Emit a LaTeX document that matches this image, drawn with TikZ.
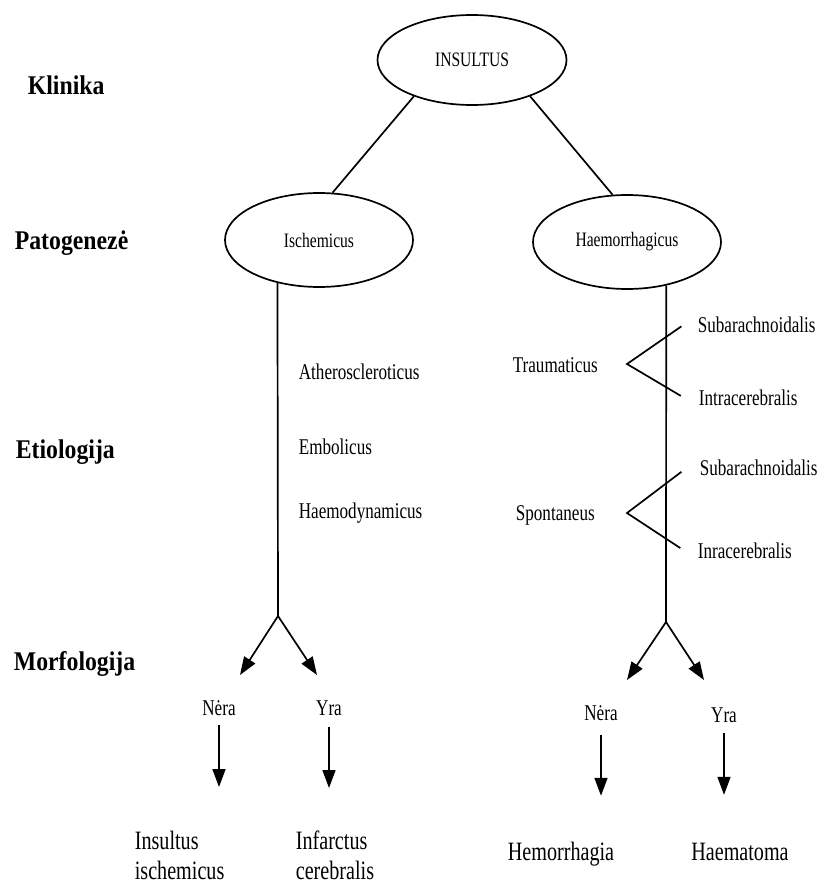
\documentclass[tikz,border=0pt]{standalone}
\usepackage{fontspec}
\setmainfont{Liberation Serif}[FakeStretch=0.76]
\newfontfamily\lblfont{Liberation Serif}[FakeStretch=0.88]
\usepackage{tikz}
\usetikzlibrary{arrows.meta, shapes.geometric, positioning}

\begin{document}
\begin{tikzpicture}[x=1pt, y=-1pt, line width=1.7pt]
  \tikzstyle{lvl}=[anchor=base west, inner sep=0pt,
    font=\lblfont\bfseries\fontsize{27}{30}\selectfont]
  \tikzstyle{ell}=[draw, ellipse, minimum width=188pt, minimum height=94pt,
    font=\fontsize{20.5}{24}\selectfont]
  \tikzstyle{txt}=[anchor=base west, inner sep=0pt,
    font=\fontsize{22.5}{26}\selectfont]
  \tikzstyle{ans}=[anchor=base, inner sep=0pt,
    font=\fontsize{22.5}{26}\selectfont]
  \tikzstyle{res}=[inner sep=0pt, align=left,
    font=\fontsize{26.5}{30}\selectfont]
  \tikzstyle{arr}=[-{Triangle[length=18pt, width=13pt]}]

  \useasboundingbox (0,0) rectangle (823,888);

  % levels on the left
  \node[lvl] (klin) at (27,95)  {Klinika};
  \node[lvl] (pato) at (14,249) {Patogenezė};
  \node[lvl] (etio) at (15,458) {Etiologija};
  \node[lvl] (morf) at (13,670) {Morfologija};

  % ellipses
  \node[ell, minimum width=189pt, minimum height=90pt] (ins) at (472,60) {INSULTUS};
  \node[ell] (isch) at (319,240) {Ischemicus};
  \node[ell] (haem) at (627,242) {Haemorrhagicus};

  \draw (ins.212) -- (isch.74);
  \draw (ins.328) -- (haem.107);

  % ischemic branch
  \node[txt] (ath) at (298,379) {Atheroscleroticus};
  \node[txt] (emb) at (298,454) {Embolicus};
  \node[txt] (hdy) at (298,518) {Haemodynamicus};

  % haemorrhagic branch
  \node[txt] (trau) at (512,372) {Traumaticus};
  \node[txt] (sa1)  at (697,332) {Subarachnoidalis};
  \node[txt] (ic1)  at (698,405) {Intracerebralis};
  \node[txt] (spon) at (515,520) {Spontaneus};
  \node[txt] (sa2)  at (699,475) {Subarachnoidalis};
  \node[txt] (ic2)  at (697,558) {Inracerebralis};

  \coordinate (tv1) at (627,364);
  \coordinate (tv2) at (627,513);
  \draw[shorten <=19pt, shorten >=20pt] (sa1.north west) -- (tv1) -- (ic1.south west);
  \draw[shorten <=22pt, shorten >=20pt] (sa2.north west) -- (tv2) -- (ic2.south west);

  % trunks and forks
  \coordinate (lj) at (278,616);
  \coordinate (rj) at (666,622);
  \draw (isch.226) -- (lj);
  \draw (haem.312) -- (rj);

  \coordinate (la) at (240,675);
  \coordinate (lb) at (317,675);
  \coordinate (ra) at (627,680);
  \coordinate (rb) at (704,680);
  \draw[arr] (lj) -- (la);
  \draw[arr] (lj) -- (lb);
  \draw[arr] (rj) -- (ra);
  \draw[arr] (rj) -- (rb);

  % morphology
  \node[ans] (n1) at (219,715) {Nėra};
  \node[ans] (y1) at (329,715) {Yra};
  \node[ans] (n2) at (601,720) {Nėra};
  \node[ans] (y2) at (724,722) {Yra};

  \node[res, anchor=north west] (ii)  at (134,830) {Insultus\\ischemicus};
  \node[res, anchor=north west] (ic)  at (295,830) {Infarctus\\cerebralis};
  \node[res, anchor=base] (hem) at (561,860) {Hemorrhagia};
  \node[res, anchor=base] (hmt) at (740,860) {Haematoma};

  \draw[arr, shorten <=10pt, shorten >=43pt] (n1.base) -- (n1.base |- ii.north);
  \draw[arr, shorten <=12pt, shorten >=42pt] (y1.base) -- (y1.base |- ic.north);
  \draw[arr, shorten <=15pt, shorten >=45pt] (n2.base) -- (n2.base |- hem.north);
  \draw[arr, shorten <=11pt, shorten >=47pt] (y2.base) -- (y2.base |- hmt.north);
\end{tikzpicture}
\end{document}
